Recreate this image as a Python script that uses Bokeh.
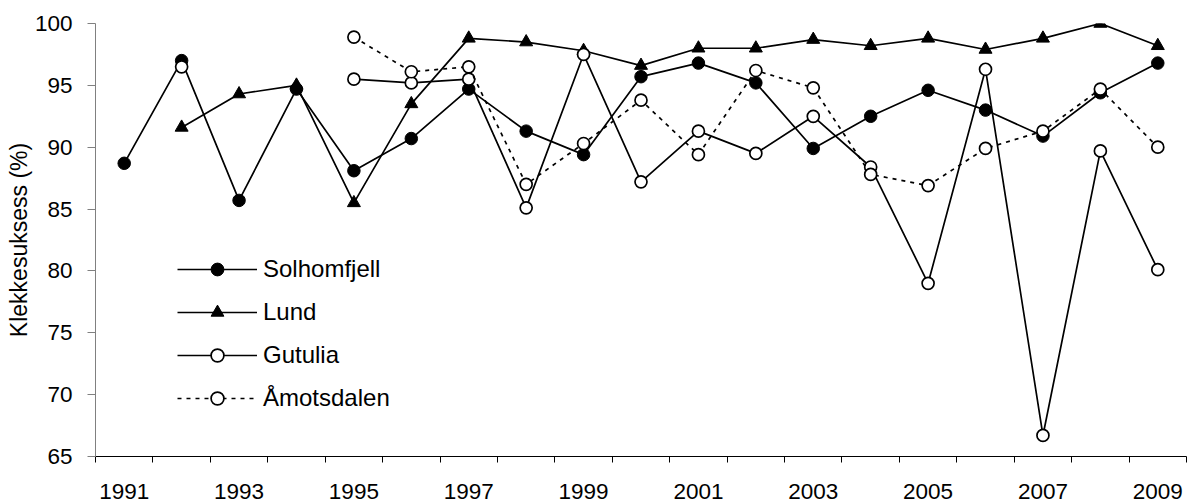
import math
from bokeh.plotting import figure
from bokeh.models import FixedTicker, Range1d, Legend, LegendItem
from bokeh.embed import file_html
from bokeh.resources import INLINE

nan = float("nan")

years = list(range(1991, 2010))
solhomfjell = [88.7, 97.0, 85.7, 94.7, 88.1, 90.7, 94.7, 91.3, 89.4, 95.7,
               96.8, 95.2, 89.9, 92.5, 94.6, 93.0, 90.9, 94.4, 96.8]
lund = [nan, 91.6, 94.3, 95.0, 85.5, 93.5, 98.8, 98.5, 97.8, 96.6,
        98.0, 98.0, 98.7, 98.2, 98.8, 97.9, 98.8, 100.0, 98.2]
gutulia = [nan, 96.5, nan, nan, 95.5, 95.2, 95.5, 85.1, 97.5, 87.2,
           91.3, 89.5, 92.5, 88.4, 79.0, 96.3, 66.7, 89.7, 80.1]
amotsdalen = [nan, nan, nan, nan, 98.9, 96.1, 96.5, 87.0, 90.3, 93.8,
              89.4, 96.2, 94.8, 87.8, 86.9, 89.9, 91.3, 94.7, 90.0]

x_tick_labels = ["1991", "1993", "1995", "1997", "1999", "2001", "2003", "2005", "2007", "2009"]
y_ticks = [65, 70, 75, 80, 85, 90, 95, 100]
y_label = "Klekkesuksess (%)"

FONT = "Liberation Sans"

p = figure(width=1193, height=504, output_backend="svg", toolbar_location=None,
           x_range=Range1d(years[0] - 0.5, years[-1] + 0.5), y_range=Range1d(65, 100),
           min_border_left=95, min_border_right=7, min_border_top=23, min_border_bottom=48)
p.outline_line_color = None
p.xgrid.visible = False
p.ygrid.visible = False
p.background_fill_color = "white"
p.border_fill_color = "white"

# x axis: category style, ticks at boundaries, labels at odd years
label_years = [int(s) for s in x_tick_labels]
boundaries = [y - 0.5 for y in years] + [years[-1] + 0.5]
p.xaxis.ticker = FixedTicker(ticks=label_years, minor_ticks=boundaries)
p.xaxis.major_label_overrides = {y: s for y, s in zip(label_years, x_tick_labels)}
p.xaxis.major_tick_out = 0
p.xaxis.major_tick_in = 0
p.xaxis.minor_tick_out = 6
p.xaxis.minor_tick_in = 0
p.xaxis.axis_line_color = "black"
p.xaxis.minor_tick_line_color = "black"
p.xaxis.major_label_text_font = FONT
p.xaxis.major_label_text_font_size = "22.5px"
p.xaxis.major_label_text_color = "black"
p.xaxis.major_label_standoff = 21

# y axis
p.yaxis.ticker = FixedTicker(ticks=y_ticks)
p.yaxis.minor_tick_line_color = None
p.yaxis.major_tick_out = 8
p.yaxis.major_tick_in = 0
p.yaxis.axis_line_color = "#808080"
p.yaxis.major_tick_line_color = "#808080"
p.yaxis.major_label_text_font = FONT
p.yaxis.major_label_text_font_size = "22.5px"
p.yaxis.major_label_text_color = "black"
p.yaxis.major_label_standoff = 15
p.yaxis.axis_label = y_label
p.yaxis.axis_label_text_font = FONT
p.yaxis.axis_label_text_font_size = "23px"
p.yaxis.axis_label_text_font_style = "normal"
p.yaxis.axis_label_text_color = "black"
p.yaxis.axis_label_standoff = 0

LW = 1.7
items = []

l1 = p.line(years, solhomfjell, line_color="black", line_width=LW)
s1 = p.scatter(years, solhomfjell, marker="circle", size=12.5, fill_color="black", line_color="black")
items.append(LegendItem(label="Solhomfjell", renderers=[l1, s1]))

l2 = p.line(years, lund, line_color="black", line_width=LW)
s2 = p.scatter(years, lund, marker="triangle", size=13, fill_color="black", line_color="black")
items.append(LegendItem(label="Lund", renderers=[l2, s2]))

l3 = p.line(years, gutulia, line_color="black", line_width=LW)
s3 = p.scatter(years, gutulia, marker="circle", size=12, fill_color="white", line_color="black", line_width=1.7)
items.append(LegendItem(label="Gutulia", renderers=[l3, s3]))

l4 = p.line(years, amotsdalen, line_color="black", line_width=LW, line_dash="4 5")
s4 = p.scatter(years, amotsdalen, marker="circle", size=12, fill_color="white", line_color="black", line_width=1.7)
items.append(LegendItem(label="Åmotsdalen", renderers=[l4, s4]))

legend = Legend(items=items, location=(82, 42))
legend.border_line_color = None
legend.background_fill_alpha = 0
legend.padding = 0
legend.margin = 0
legend.spacing = 11
legend.glyph_width = 80
legend.glyph_height = 32
legend.label_height = 32
legend.label_standoff = 6
legend.label_text_font = FONT
legend.label_text_font_size = "24px"
legend.label_text_color = "black"
p.add_layout(legend)

open("out.html", "w").write(file_html(p, INLINE))
